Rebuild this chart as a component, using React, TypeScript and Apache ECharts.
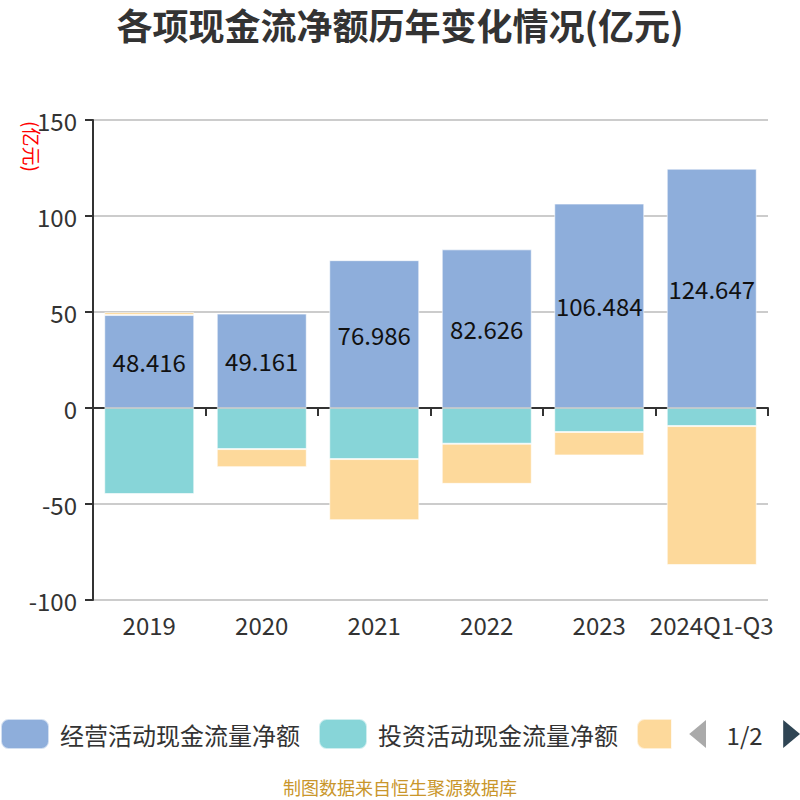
import React, { useEffect, useRef } from "react";
import * as echarts from "echarts";

const categories = ["2019", "2020", "2021", "2022", "2023", "2024Q1-Q3"];
const operating = [48.416, 49.161, 76.986, 82.626, 106.484, 124.647];
const investing = [-44.8, -21.4, -26.6, -18.6, -12.5, -9.4];
const financing = [1.5, -9.4, -31.8, -20.9, -12.2, -72.4];
const seriesNames = ["经营活动现金流量净额", "投资活动现金流量净额", "筹资活动现金流量净额"];
const colors = ["#8eaedb", "#87d5d8", "#fdd99b"];

export default function App() {
  const ref = useRef<HTMLDivElement>(null);
  useEffect(() => {
    const chart = echarts.init(ref.current!, null, { renderer: "svg" });
    const fam = "'Noto Sans CJK SC', 'Noto Sans', sans-serif";
    chart.setOption({
      animation: false,
      color: colors,
      textStyle: { fontFamily: fam },
      title: {
        text: "各项现金流净额历年变化情况(亿元)",
        left: "center",
        top: 2,
        padding: [4, 5, 4, 5],
        textStyle: { fontSize: 36, fontWeight: "bold", color: "#333", fontFamily: fam },
      },
      grid: { left: 93, right: 32, top: 120, bottom: 200, containLabel: false, outerBoundsMode: "none" },
      legend: {
        type: "scroll",
        top: 718,
        left: 0,
        right: 0,
        padding: 0,
        itemWidth: 48,
        itemHeight: 30,
        itemGap: 18,
        icon: "roundRect",
        textStyle: { fontSize: 24, color: "#333", padding: [0, 0, 0, 6] },
        pageTextStyle: { fontSize: 24, color: "#333" },
        pageIconSize: [18, 28],
        pageButtonItemGap: 10,
        pageIconColor: "#2f4554",
        pageIconInactiveColor: "#aaa",
        data: seriesNames,
      },
      xAxis: [
        {
          type: "category",
          data: categories,
          axisLine: { onZero: true, lineStyle: { color: "#333", width: 2 } },
          axisTick: { show: true, length: 8, lineStyle: { width: 2 } },
          axisLabel: { show: false },
        },
        {
          type: "category",
          data: categories,
          position: "bottom",
          axisLine: { show: false, onZero: false },
          axisTick: { show: false },
          axisLabel: { fontSize: 24, color: "#333", margin: 12, interval: 0 },
        },
      ],
      yAxis: {
        type: "value",
        min: -100,
        max: 150,
        interval: 50,
        axisLine: { show: true, lineStyle: { color: "#333", width: 2 } },
        axisTick: { show: true, length: 8, lineStyle: { width: 2 } },
        axisLabel: { fontSize: 24, color: "#333", margin: 16 },
        splitLine: { lineStyle: { color: "#ccc", width: 2 } },
      },
      graphic: [
        {
          type: "text",
          x: 42,
          y: 121,
          rotation: -Math.PI / 2,
          style: { text: "(亿元)", fill: "#ff0000", fontSize: 19, fontFamily: fam },
        },
        {
          type: "text",
          left: "center",
          top: 778,
          style: { text: "制图数据来自恒生聚源数据库", fill: "#c9962b", fontSize: 18, fontFamily: fam },
        },
      ],
      series: [
        {
          name: seriesNames[0],
          type: "bar",
          stack: "total",
          barWidth: "80%",
          data: operating,
          itemStyle: { borderColor: "rgba(255,255,255,0.6)", borderWidth: 1 },
          label: { show: true, position: "inside", fontSize: 24, color: "#111" },
        },
        {
          name: seriesNames[1],
          type: "bar",
          stack: "total",
          data: investing,
          itemStyle: { borderColor: "rgba(255,255,255,0.6)", borderWidth: 1 },
        },
        {
          name: seriesNames[2],
          type: "bar",
          stack: "total",
          data: financing,
          itemStyle: { borderColor: "rgba(255,255,255,0.6)", borderWidth: 1 },
        },
      ],
    });
    return () => chart.dispose();
  }, []);
  return <div ref={ref} style={{ position: "absolute", left: 0, top: 0, width: 800, height: 800 }} />;
}
